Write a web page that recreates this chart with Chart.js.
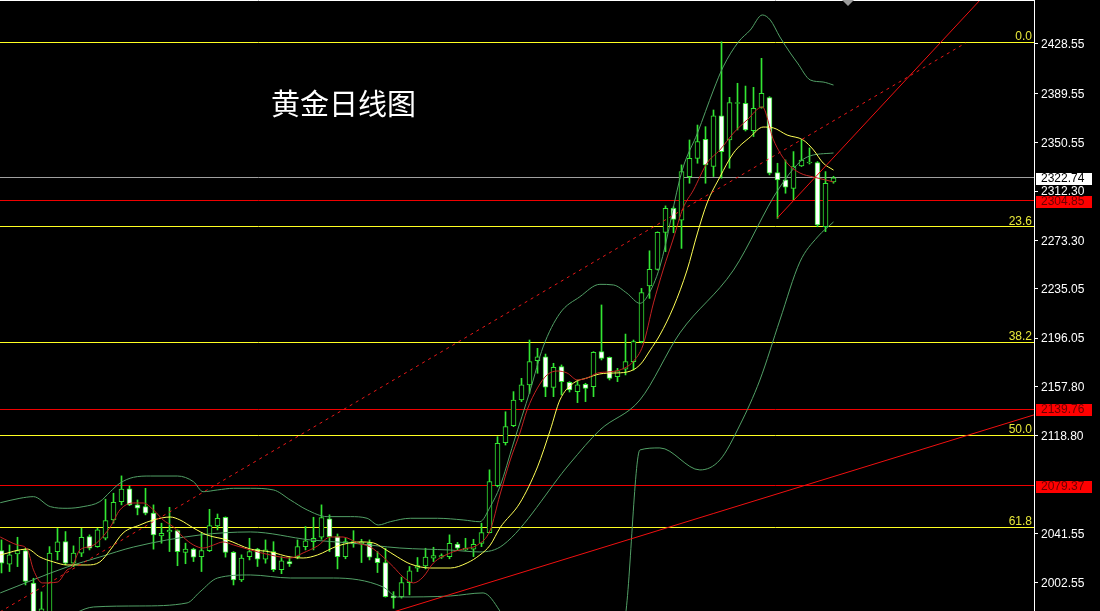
<!DOCTYPE html>
<html>
<head>
<meta charset="utf-8">
<script src="https://cdn.jsdelivr.net/npm/chart.js@4.4.0/dist/chart.umd.min.js"></script>
<style>
  html, body { margin: 0; padding: 0; background: #000; }
  #wrap { width: 1100px; height: 611px; }
</style>
</head>
<body>
<div id="wrap"><canvas id="gold" width="1100" height="611"></canvas></div>
<script>
// daily candles, oldest first (price units)
const openP = [2028.2,2017.4,2025.5,2028.2,2002.4,1976.6,1975.0,2027.4,2035.2,2018.2,2026.1,2039.2,2031.3,2037.9,2052.4,2066.9,2076.9,2064.3,2062.9,2057.8,2039.8,2042.9,2043.9,2026.7,2029.3,2023.4,2028.2,2047.7,2054.5,2026.7,2005.0,2023.4,2029.3,2021.4,2027.4,2013.0,2019.5,2023.4,2031.3,2035.2,2038.7,2053.2,2039.2,2023.4,2033.4,2033.4,2033.9,2022.2,2018.7,1992.4,1991.8,2002.9,2014.3,2016.1,2022.2,2023.0,2023.4,2033.4,2028.7,2029.3,2033.9,2042.4,2079.5,2113.5,2126.9,2147.2,2159.1,2178.2,2181.4,2157.2,2173.5,2161.2,2153.8,2159.6,2157.7,2185.4,2180.9,2165.6,2171.5,2177.5,2193.3,2237.3,2250.4,2279.7,2298.6,2289.4,2323.7,2338.2,2353.3,2331.7,2371.7,2352.7,2381.5,2381.7,2360.0,2378.5,2386.1,2326.9,2321.1,2314.5,2332.2,2334.5,2334.8,2284.1,2319.5];
const highP = [2036.6,2032.6,2038.7,2030.0,2006.3,1995.5,2031.3,2045.7,2043.2,2031.9,2045.8,2040.6,2045.8,2068.8,2073.5,2087.2,2079.3,2068.2,2077.4,2064.3,2049.8,2062.4,2044.5,2034.0,2030.0,2042.4,2060.8,2057.1,2054.8,2027.4,2024.8,2037.9,2030.0,2036.6,2035.2,2023.4,2023.4,2036.6,2047.1,2054.5,2064.3,2056.4,2041.3,2037.9,2043.9,2037.1,2036.6,2027.4,2030.0,1995.7,2007.2,2015.6,2022.7,2030.0,2030.8,2025.6,2040.6,2034.7,2037.9,2037.1,2049.8,2092.0,2118.2,2137.9,2153.8,2164.3,2194.6,2188.0,2183.5,2176.2,2174.9,2161.7,2163.0,2160.4,2185.4,2222.3,2181.2,2172.2,2199.3,2194.6,2235.4,2265.1,2280.1,2300.6,2299.9,2333.0,2352.7,2364.5,2363.2,2376.4,2430.3,2386.4,2397.5,2395.3,2394.3,2417.2,2386.9,2334.3,2336.9,2343.5,2352.7,2346.4,2335.6,2327.7,2324.0];
const lowP = [2010.5,2011.6,2015.5,2001.0,1973.4,1973.4,1971.8,2020.8,2016.9,2015.5,2023.4,2028.7,2030.8,2036.6,2049.8,2064.3,2063.7,2056.4,2056.4,2029.3,2034.0,2027.4,2016.2,2017.8,2019.5,2011.6,2027.4,2044.5,2023.0,2001.0,2003.7,2020.8,2015.6,2018.2,2011.6,2009.9,2015.6,2021.7,2028.7,2028.7,2037.1,2027.4,2013.7,2021.7,2030.8,2018.7,2020.8,2010.8,1991.4,1982.6,1990.6,1993.2,2011.6,2013.7,2019.5,2021.9,2021.7,2028.2,2028.2,2023.4,2031.3,2042.1,2078.5,2111.6,2126.1,2145.9,2152.5,2168.3,2149.8,2149.8,2151.2,2153.5,2145.1,2145.9,2149.8,2178.8,2163.0,2161.7,2167.0,2170.9,2192.3,2227.5,2249.9,2264.4,2279.4,2267.0,2318.5,2334.3,2318.5,2323.8,2322.5,2330.4,2360.6,2359.8,2355.4,2377.8,2325.1,2290.7,2310.6,2305.3,2331.7,2333.7,2284.1,2280.2,2318.5];
const closeP = [2018.2,2024.8,2028.2,2003.7,1977.3,1982.1,2026.1,2035.0,2018.2,2026.1,2038.7,2030.0,2044.5,2051.9,2066.4,2076.7,2064.3,2061.6,2057.8,2040.6,2041.9,2044.3,2027.4,2029.3,2023.0,2028.2,2047.9,2053.7,2026.7,2005.0,2022.2,2027.4,2021.4,2028.7,2013.0,2020.0,2017.6,2031.3,2035.8,2037.9,2054.2,2039.2,2023.4,2035.2,2035.2,2035.0,2023.0,2018.7,1991.8,1990.8,2002.9,2012.2,2016.4,2023.0,2024.3,2024.3,2033.9,2030.0,2030.0,2033.2,2042.4,2082.7,2113.0,2126.1,2147.2,2159.1,2177.5,2181.4,2157.4,2173.0,2161.7,2155.1,2159.1,2156.4,2184.9,2180.1,2164.3,2170.3,2177.5,2193.3,2232.0,2250.4,2279.7,2298.6,2289.9,2327.7,2338.2,2351.4,2332.9,2371.7,2343.5,2382.2,2382.2,2360.6,2377.7,2389.6,2326.4,2321.1,2315.3,2331.7,2336.9,2335.1,2285.5,2318.5,2322.74];

// indicator lines: [bar index, price]
const bandUpper = [[-0.16,2066.0],[2.3,2069.5],[4.0,2070.8],[6.1,2062.9],[8.2,2061.6],[10.2,2062.9],[12.3,2066.9],[13.6,2074.7],[14.8,2081.4],[16.5,2086.1],[18.6,2087.1],[22.0,2087.1],[24.0,2082.6],[25.2,2074.7],[27.0,2076.1],[29.0,2077.4],[31.1,2077.4],[34.0,2076.1],[36.1,2068.2],[38.2,2060.3],[40.7,2055.0],[43.6,2055.0],[45.7,2053.7],[47.1,2048.4],[48.6,2051.0],[51.1,2053.7],[54.5,2053.7],[57.7,2052.4],[59.8,2051.0],[61.1,2062.9],[62.3,2078.7],[64.0,2113.2],[66.1,2155.1],[67.7,2189.1],[69.8,2215.7],[72.3,2228.8],[74.8,2238.6],[76.5,2238.1],[78.2,2231.5],[79.8,2223.6],[80.7,2228.8],[82.3,2252.6],[85.1,2329.0],[87.0,2358.2],[89.0,2392.2],[90.2,2410.4],[92.1,2430.1],[93.6,2439.6],[95.1,2451.5],[96.1,2447.5],[97.3,2434.1],[98.6,2421.4],[99.5,2413.5],[101.1,2400.1],[102.7,2398.5],[104.0,2396.1]];
const bandMiddle = [[-0.16,1994.7],[8.2,2015.2],[12.3,2023.1],[16.5,2031.0],[24.8,2040.5],[31.1,2042.9],[38.6,2036.6],[43.6,2034.2],[49.8,2030.2],[56.1,2028.6],[59.8,2027.1],[62.7,2032.6],[71.1,2097.4],[74.8,2123.5],[79.8,2147.2],[84.8,2200.2],[91.5,2249.9],[97.3,2315.5],[100.7,2339.2],[104.0,2342.4]];
const bandLower = [[-0.16,1965.4],[7.3,1973.3],[11.5,1983.6],[17.3,1984.4],[23.2,1986.8],[24.8,1995.5],[27.0,2006.5],[31.1,2008.9],[36.1,2006.5],[41.5,2006.5],[47.7,1999.4],[49.5,1991.5],[56.1,1992.3],[60.2,1994.7],[62.3,1980.4],[64.8,1949.6],[74.8,1941.7],[77.9,1973.3],[79.8,2107.7],[82.3,2109.3],[87.3,2091.9],[89.8,2099.8],[92.3,2127.4],[94.8,2163.0],[97.3,2210.4],[99.8,2256.3],[102.0,2276.0],[104.0,2287.9]];
const maRed = [[-0.16,2038.9],[2.0,2032.6],[3.2,2029.4],[4.0,2012.9],[5.1,2002.6],[7.0,2003.3],[8.2,2012.9],[8.8,2015.2],[9.8,2028.7],[11.3,2031.8],[13.6,2046.8],[14.8,2060.3],[16.5,2065.8],[17.7,2065.8],[19.0,2060.3],[20.2,2052.4],[21.5,2046.8],[22.7,2038.9],[24.0,2032.6],[25.2,2030.2],[26.5,2032.6],[27.7,2035.0],[29.0,2032.6],[31.1,2028.7],[33.6,2024.7],[36.1,2022.3],[37.7,2026.3],[39.5,2031.8],[41.1,2038.9],[42.7,2038.9],[44.5,2034.2],[46.1,2031.0],[47.7,2023.1],[49.0,2015.2],[50.2,2007.3],[51.5,2002.6],[52.7,2007.3],[54.0,2018.4],[56.1,2026.3],[57.7,2029.4],[59.5,2032.6],[61.1,2044.5],[62.3,2072.1],[63.6,2099.8],[64.8,2121.1],[65.7,2139.3],[67.0,2156.7],[68.2,2167.0],[69.5,2170.1],[70.7,2168.5],[72.0,2163.0],[73.2,2164.6],[74.5,2168.5],[75.7,2169.3],[77.3,2170.9],[78.9,2177.2],[80.2,2190.7],[81.5,2223.9],[82.7,2249.9],[84.0,2275.2],[85.2,2298.9],[86.5,2313.2],[88.2,2334.5],[89.8,2344.8],[91.5,2358.2],[93.2,2368.5],[95.1,2378.8],[96.5,2352.7],[98.2,2334.5],[99.8,2326.6],[101.5,2323.4],[103.0,2321.1],[104.0,2319.5]];
const maYellow = [[-0.16,2024.7],[3.2,2029.4],[4.8,2023.1],[6.5,2019.2],[8.2,2016.8],[10.7,2016.8],[12.3,2019.2],[13.6,2028.7],[15.2,2042.1],[17.3,2048.4],[19.0,2052.4],[21.1,2054.7],[22.3,2052.4],[24.0,2046.0],[25.7,2040.5],[28.2,2036.6],[31.1,2029.4],[33.6,2027.1],[36.1,2023.1],[37.7,2022.3],[39.5,2024.7],[42.0,2031.8],[44.8,2035.0],[46.5,2034.2],[47.7,2030.2],[49.5,2023.1],[51.1,2017.6],[53.6,2014.4],[56.1,2014.4],[58.2,2018.4],[59.8,2024.7],[61.1,2032.6],[62.3,2046.0],[64.8,2065.8],[67.0,2094.3],[68.6,2123.5],[69.8,2147.2],[71.5,2160.6],[73.2,2164.6],[74.8,2167.8],[76.5,2168.5],[78.2,2169.3],[79.8,2174.9],[81.1,2186.7],[82.3,2198.6],[84.0,2220.7],[85.7,2249.9],[87.0,2279.2],[88.2,2302.9],[89.8,2323.4],[91.5,2342.4],[93.6,2355.1],[95.2,2362.9],[96.5,2362.2],[98.2,2356.6],[100.2,2352.7],[101.5,2344.8],[102.7,2334.5],[104.0,2328.9]];

// drawn objects
const fibPrices = [2430.1, 2284.0, 2193.0, 2119.5, 2046.8];
const fibLabels = ['0.0', '23.6', '38.2', '50.0', '61.8'];
const redLevels = [2304.85, 2139.76, 2079.37];
const bidPrice = 2322.74;
const trendSolidA = [[48.6, 1978.9], [129.1, 2135.5]];
const trendSolidB = [[96.97, 2291.0], [123.6, 2472.0]];
const trendDashed = [[-0.19, 1979.7], [120.5, 2429.3]];

const tickValues = [2428.55, 2389.55, 2350.55, 2312.30, 2273.30, 2235.05, 2196.05, 2157.80, 2118.80, 2041.55, 2002.55];
const title = '黄金日线图';

const X_MIN = -0.1875, X_MAX = 129.0625;
const Y_MIN = 1980.42, Y_MAX = 2463.32;

const GREEN = '#33e633';
const BAND = '#52a066';
const FIB = '#ffff22';
const RED_LINE = '#f00000';
const CLEAR = 'rgba(0,0,0,0)';

const pts = arr => arr.map(p => ({ x: p[0], y: p[1] }));

const wicks = lowP.map((l, i) => ({ x: i, y: [l, highP[i]] }));
const bodies = openP.map((o, i) => ({ x: i, y: [o, closeP[i]] }));
const bodyFill = openP.map((o, i) => closeP[i] >= o ? '#000000' : '#ffffff');

// flat price lines ride on the price axis as grid lines (pixel aligned by Chart.js)
const levelColor = new Map();
fibPrices.forEach(p => levelColor.set(p, FIB));
redLevels.forEach(p => levelColor.set(p, RED_LINE));
levelColor.set(bidPrice, '#a0a0a0');
const isLabelTick = v => tickValues.some(t => Math.abs(t - v) < 1e-6);

function line(data, color, order, extra) {
  return Object.assign({
    type: 'line', data, borderColor: color, borderWidth: 1,
    pointRadius: 0, fill: false, tension: 0, order
  }, extra || {});
}

const datasets = [];
datasets.push(line(pts(bandUpper), BAND, 5, { cubicInterpolationMode: 'monotone' }));
datasets.push(line(pts(bandMiddle), BAND, 5, { cubicInterpolationMode: 'monotone' }));
datasets.push(line(pts(bandLower), BAND, 5, { cubicInterpolationMode: 'monotone' }));
datasets.push(line(pts(maYellow), '#ffff55', 4, { cubicInterpolationMode: 'monotone' }));
datasets.push(line(pts(maRed), '#c42222', 3, { cubicInterpolationMode: 'monotone' }));
datasets.push(line(pts(trendSolidA), '#f01010', 2));
datasets.push(line(pts(trendSolidB), '#f01010', 2));
datasets.push(line(pts(trendDashed), '#e81818', 2, { borderDash: [3, 4] }));
datasets.push({
  type: 'bar', data: wicks, backgroundColor: GREEN, borderWidth: 0,
  barThickness: 1, grouped: false, order: 11
});
datasets.push({
  type: 'bar', data: bodies, backgroundColor: bodyFill, borderColor: GREEN,
  borderWidth: 1, borderSkipped: false, barThickness: 5, grouped: false,
  minBarLength: 1, order: 10
});

const overlay = {
  id: 'overlay',
  afterDatasetsDraw(chart) {
    const { ctx, chartArea: a, scales: { y } } = chart;
    ctx.save();
    // top frame line
    ctx.strokeStyle = '#ffffff';
    ctx.lineWidth = 1;
    ctx.beginPath();
    ctx.moveTo(0, 0.5);
    ctx.lineTo(a.right, 0.5);
    ctx.stroke();
    // shift marker
    ctx.fillStyle = '#9a9a9a';
    ctx.beginPath();
    ctx.moveTo(842, 0);
    ctx.lineTo(854, 0);
    ctx.lineTo(848, 6);
    ctx.closePath();
    ctx.fill();
    // fib level captions
    ctx.font = '12px "Liberation Sans", Arial, sans-serif';
    ctx.fillStyle = '#e8e83a';
    ctx.textAlign = 'right';
    ctx.textBaseline = 'alphabetic';
    fibPrices.forEach((p, k) => {
      ctx.fillText(fibLabels[k], a.right - 2, Math.round(y.getPixelForValue(p)) - 2);
    });
    // title
    ctx.fillStyle = '#ffffff';
    ctx.textAlign = 'left';
    ctx.textBaseline = 'middle';
    ctx.font = '29px "Noto Sans CJK SC", sans-serif';
    ctx.fillText(title, 271, 104);
    ctx.restore();
  },
  afterDraw(chart) {
    const { ctx, chartArea: a, scales: { y } } = chart;
    ctx.save();
    ctx.font = '12px "Liberation Sans", Arial, sans-serif';
    ctx.textAlign = 'left';
    ctx.textBaseline = 'middle';
    const box = (p, bg, fg) => {
      const py = Math.round(y.getPixelForValue(p));
      ctx.fillStyle = bg;
      ctx.fillRect(a.right + 2, py - 5, 56, 12);
      ctx.fillStyle = fg;
      ctx.fillText(p.toFixed(2), a.right + 7, py + 1);
    };
    box(bidPrice, '#ffffff', '#000000');
    redLevels.forEach(p => box(p, '#ff0000', '#6a0000'));
    ctx.restore();
  }
};

new Chart(document.getElementById('gold'), {
  type: 'bar',
  data: { datasets },
  options: {
    responsive: false,
    animation: false,
    events: [],
    layout: { padding: 0 },
    plugins: { legend: { display: false }, tooltip: { enabled: false } },
    scales: {
      x: { type: 'linear', min: X_MIN, max: X_MAX, display: false, offset: false },
      y: {
        position: 'right', min: Y_MIN, max: Y_MAX,
        afterBuildTicks: s => {
          const vals = tickValues.concat([...levelColor.keys()]);
          vals.sort((p, q) => p - q);
          s.ticks = vals.map(v => ({ value: v }));
        },
        afterFit: s => { s.width = 66; s.paddingTop = 0; s.paddingBottom = 0; },
        ticks: {
          color: '#ffffff', padding: 3, autoSkip: false, labelOffset: 1,
          font: { family: '"Liberation Sans", Arial, sans-serif', size: 12 },
          callback: v => isLabelTick(v) ? Number(v).toFixed(2) : ''
        },
        grid: {
          drawOnChartArea: true, drawTicks: true, tickLength: 4, lineWidth: 1,
          color: c => (c.tick && levelColor.get(c.tick.value)) || CLEAR,
          tickColor: c => (c.tick && isLabelTick(c.tick.value)) ? '#ffffff' : CLEAR
        },
        border: { display: true, color: '#ffffff' }
      }
    }
  },
  plugins: [overlay]
});
</script>
</body>
</html>
